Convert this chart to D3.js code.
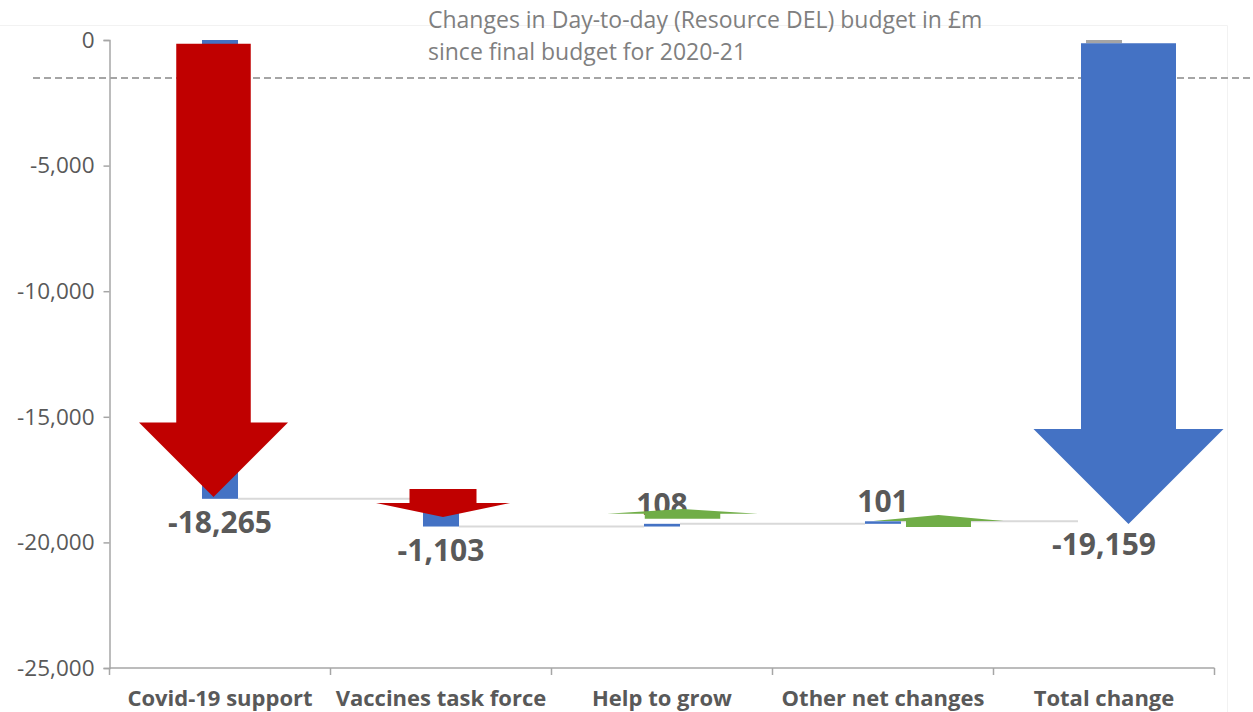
<!DOCTYPE html>
<html>
<head>
<meta charset="utf-8">
<script src="https://cdn.jsdelivr.net/npm/d3@7"></script>
<style>
  body { margin: 0; background: #fff; }
  text { font-family: "Open Sans", sans-serif; }
</style>
</head>
<body>
<svg id="chart" width="1253" height="712"></svg>
<script>
// data
const categories = ["Covid-19 support", "Vaccines task force", "Help to grow", "Other net changes", "Total change"];
const changes = [-18265, -1103, 108, 101, -19159];
const isTotal = [false, false, false, false, true];
const yTicks = [0, -5000, -10000, -15000, -20000, -25000];
const refLine = -1513;
const titleLines = ["Changes in Day-to-day (Resource DEL) budget in £m", "since final budget for 2020-21"];

// block arrows drawn over the bars (values on the y axis)
const arrowFrom = [-147, -17874, -19057, -19387, -131];
const arrowTo = [-18193, -18989, -18670, -18909, -19268];

const width = 1253;
const height = 712;
const margin = { top: 40, right: 38.5, bottom: 44, left: 109.5 };

const svg = d3.select("#chart");

const x = d3.scaleBand()
  .domain(categories)
  .range([margin.left, width - margin.right]);

const y = d3.scaleLinear()
  .domain([0, -25000])
  .range([margin.top, height - margin.bottom]);

const fmt = (v) => d3.format(",")(v).replace("\u2212", "-");
const cx = (i) => x(categories[i]) + x.bandwidth() / 2;
const barW = x.bandwidth() * 0.163;

// arrow look, px offset from bar centre and head width
const arrowShift = [-6.5, 2, 20.5, 55.5, 24.5];
const arrowHead = [149, 134, 151, 130, 190];
const arrowColor = ["#C00000", "#C00000", "#70AD47", "#70AD47", "#4472C4"];

// running totals
let run = 0;
const bars = changes.map((v, i) => {
  let start, end;
  if (isTotal[i]) { start = 0; end = v; }
  else { start = run; end = run + v; run = end; }
  return { i, start, end, v };
});

// faint plot frame
svg.append("path")
  .attr("d", `M0,25.5H${width - 25.5}V${height}`)
  .attr("fill", "none")
  .attr("stroke", "#F2F2F2")
  .attr("stroke-width", 1);

// y axis
const yAxis = svg.append("g")
  .attr("transform", `translate(${margin.left},0)`)
  .call(d3.axisLeft(y).tickValues(yTicks).tickFormat(fmt).tickSizeOuter(0).tickSize(6).tickPadding(9));
yAxis.select(".domain").attr("stroke", "#A6A6A6").attr("stroke-width", 1.5);
yAxis.selectAll(".tick line").attr("stroke", "#A6A6A6").attr("stroke-width", 1.5);
yAxis.selectAll(".tick text")
  .attr("fill", "#595959")
  .style("font-size", "22.5px");

// x axis at the bottom of the range
const xAxis = svg.append("g")
  .attr("transform", `translate(0,${y(-25000)})`);
xAxis.append("line")
  .attr("x1", margin.left).attr("x2", width - margin.right)
  .attr("stroke", "#A6A6A6").attr("stroke-width", 1.5);
xAxis.selectAll(".sep")
  .data(d3.range(categories.length + 1))
  .join("line")
  .attr("class", "sep")
  .attr("x1", (d) => margin.left + d * x.step())
  .attr("x2", (d) => margin.left + d * x.step())
  .attr("y1", 0).attr("y2", 7)
  .attr("stroke", "#A6A6A6").attr("stroke-width", 1.5);
xAxis.selectAll(".cat")
  .data(categories)
  .join("text")
  .attr("class", "cat")
  .attr("x", (d, i) => cx(i))
  .attr("y", 38)
  .attr("text-anchor", "middle")
  .attr("fill", "#595959")
  .style("font-size", "22px")
  .style("font-weight", "bold")
  .text((d) => d);

// dashed reference line
svg.append("line")
  .attr("x1", 33).attr("x2", width)
  .attr("y1", y(refLine)).attr("y2", y(refLine))
  .attr("stroke", "#A5A5A5")
  .attr("stroke-width", 2)
  .attr("stroke-dasharray", "7,4");

// connectors
svg.append("g").selectAll("line")
  .data(bars.slice(0, -1))
  .join("line")
  .attr("x1", (d) => cx(d.i) + barW / 2)
  .attr("x2", (d) => cx(d.i + 1) - barW / 2 - (isTotal[d.i + 1] ? 8 : 0))
  .attr("y1", (d) => y(d.end))
  .attr("y2", (d) => y(d.end))
  .attr("stroke", "#D9D9D9")
  .attr("stroke-width", 2);

// waterfall bars; the total only peeks out above its arrow
svg.append("g").selectAll("rect")
  .data(bars)
  .join("rect")
  .attr("x", (d) => cx(d.i) - barW / 2)
  .attr("width", barW)
  .attr("y", (d) => y(isTotal[d.i] ? 0 : Math.max(d.start, d.end)))
  .attr("height", (d) => isTotal[d.i]
    ? y(arrowFrom[d.i]) - y(0)
    : Math.abs(y(d.end) - y(d.start)))
  .attr("fill", (d) => isTotal[d.i] ? "#A5A5A5" : "#4472C4");

// value labels
svg.append("g").selectAll("text")
  .data(bars)
  .join("text")
  .attr("x", (d) => cx(d.i))
  .attr("y", (d) => d.v < 0 ? y(Math.min(d.start, d.end)) + 34 : y(d.end) - 9)
  .attr("text-anchor", "middle")
  .attr("fill", "#595959")
  .style("font-size", "30px")
  .style("font-weight", "bold")
  .text((d) => fmt(d.v));

// block arrows
const arrowPath = (i) => {
  const c = cx(i) + arrowShift[i];
  const W = arrowHead[i];
  const sw = W / 2;
  const y0 = y(arrowFrom[i]);
  const y1 = y(arrowTo[i]);
  const dir = Math.sign(y1 - y0);
  const hl = 0.5 * Math.min(W, Math.abs(y1 - y0));
  const base = y1 - dir * hl;
  return [
    [c - sw / 2, y0], [c + sw / 2, y0], [c + sw / 2, base], [c + W / 2, base],
    [c, y1], [c - W / 2, base], [c - sw / 2, base]
  ];
};
svg.append("g").selectAll("polygon")
  .data(d3.range(categories.length))
  .join("polygon")
  .attr("points", (i) => arrowPath(i).map((p) => p.join(",")).join(" "))
  .attr("fill", (i) => arrowColor[i]);

// title inside the plot
svg.append("g").selectAll("text")
  .data(titleLines)
  .join("text")
  .attr("x", 428)
  .attr("y", (d, i) => 28 + i * 32)
  .attr("fill", "#7F7F7F")
  .style("font-size", "23px")
  .text((d) => d);
</script>
</body>
</html>
